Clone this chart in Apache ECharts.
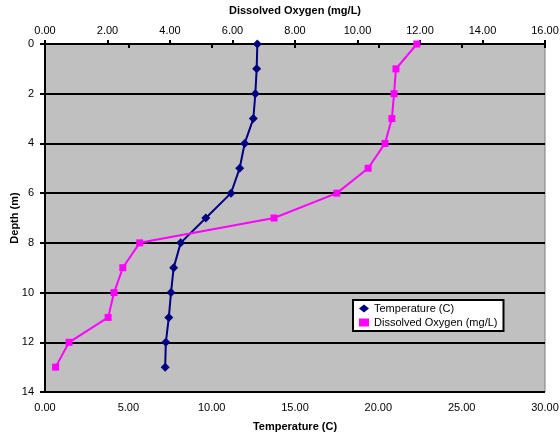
<!DOCTYPE html>
<html>
<head>
<meta charset="utf-8">
<script src="https://cdn.jsdelivr.net/npm/echarts@6/dist/echarts.min.js"></script>
<style>html,body{margin:0;padding:0;background:#fff}#c{width:560px;height:438px}</style>
</head>
<body>
<div id="c"></div>
<script>
const depths = [0,1,2,3,4,5,6,7,8,9,10,11,12,13];
const temperature = [12.74,12.70,12.62,12.50,11.98,11.68,11.16,9.65,8.14,7.72,7.56,7.43,7.25,7.21];
const oxygen = [11.90,11.23,11.17,11.10,10.88,10.34,9.34,7.33,3.03,2.49,2.21,2.02,0.77,0.34];
const tempName = 'Temperature (C)';
const oxyName = 'Dissolved Oxygen (mg/L)';
const depthName = 'Depth (m)';

const font = 'Liberation Sans, Arial, sans-serif';
const chart = echarts.init(document.getElementById('c'));
chart.setOption({
  animation: false,
  grid: {left: 45, top: 44, width: 500, height: 348, containLabel: false, outerBoundsMode: 'none',
         show: true, backgroundColor: '#C0C0C0', borderColor: '#808080', borderWidth: 1},
  legend: {
    orient: 'vertical', left: 353, top: 300, width: 148,
    backgroundColor: '#fff', borderColor: '#000', borderWidth: 2,
    padding: [3, 6, 3, 6], itemGap: 3, itemWidth: 10, itemHeight: 8,
    textStyle: {fontFamily: font, fontSize: 11, color: '#000'},
    data: [{name: tempName, icon: 'diamond'}, {name: oxyName, icon: 'rect'}]
  },
  xAxis: [
    {type: 'value', position: 'bottom', min: 0, max: 30, interval: 5,
     name: tempName, nameLocation: 'middle', nameGap: 29, nameMoveOverlap: false,
     nameTextStyle: {fontFamily: font, fontSize: 11, fontWeight: 'bold', color: '#000'},
     axisLine: {show: true, lineStyle: {color: '#000', width: 2}},
     axisTick: {show: true, length: 4, lineStyle: {color: '#000', width: 2}},
     axisLabel: {fontFamily: font, fontSize: 11, color: '#000', margin: 10, formatter: v => v.toFixed(2)},
     splitLine: {show: false}},
    {type: 'value', position: 'top', min: 0, max: 16, interval: 2,
     name: oxyName, nameLocation: 'middle', nameGap: 28, nameMoveOverlap: false,
     nameTextStyle: {fontFamily: font, fontSize: 11, fontWeight: 'bold', color: '#000'},
     axisLine: {show: true, lineStyle: {color: '#000', width: 2}},
     axisTick: {show: true, length: 4, lineStyle: {color: '#000', width: 2}},
     axisLabel: {fontFamily: font, fontSize: 11, color: '#000', margin: 8, formatter: v => v.toFixed(2)},
     splitLine: {show: false}}
  ],
  yAxis: {type: 'value', inverse: true, min: 0, max: 14, interval: 2,
    name: depthName, nameLocation: 'middle', nameGap: 25, nameRotate: 90, nameMoveOverlap: false,
    nameTextStyle: {fontFamily: font, fontSize: 11, fontWeight: 'bold', color: '#000'},
    axisLine: {show: true, lineStyle: {color: '#000', width: 2}},
    axisTick: {show: true, length: 5, lineStyle: {color: '#000', width: 2}},
    axisLabel: {fontFamily: font, fontSize: 11, color: '#000', margin: 11},
    splitLine: {show: true, lineStyle: {color: '#000', width: 2}}},
  series: [
    {name: tempName, type: 'line', xAxisIndex: 0, data: depths.map((d, i) => [temperature[i], d]),
     symbol: 'diamond', symbolSize: 9, itemStyle: {color: '#000080'},
     lineStyle: {color: '#000080', width: 2}},
    {name: oxyName, type: 'line', xAxisIndex: 1, data: depths.map((d, i) => [oxygen[i], d]),
     symbol: 'rect', symbolSize: 7, itemStyle: {color: '#FF00FF'},
     lineStyle: {color: '#FF00FF', width: 2}}
  ]
});
</script>
</body>
</html>
